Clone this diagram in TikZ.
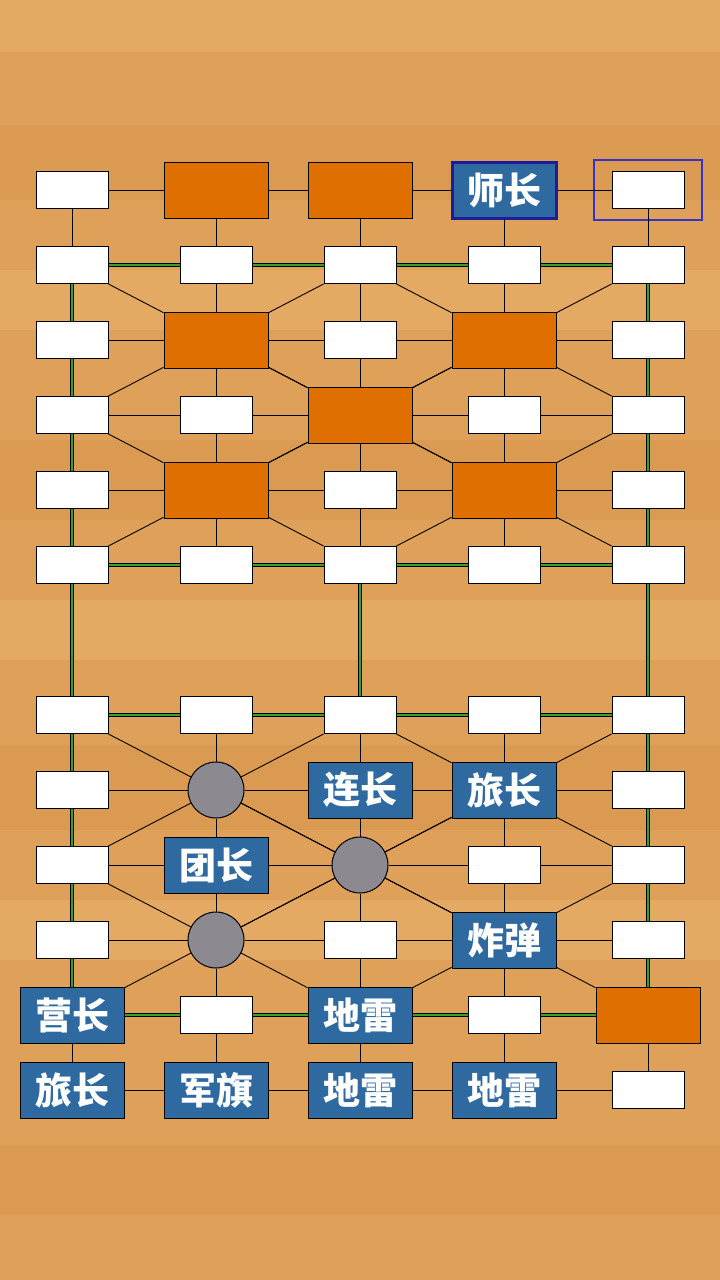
\documentclass[tikz,border=0pt]{standalone}
\usepackage{fontspec}
\newfontfamily\cjk{Noto Sans CJK SC}
\definecolor{wood}{HTML}{DFA05A}
\definecolor{woodlt}{HTML}{E4A963}
\definecolor{wooddk}{HTML}{DA9A52}
\definecolor{foeorange}{HTML}{DF7000}
\definecolor{ownblue}{HTML}{2E6AA0}
\definecolor{selblue}{HTML}{1C1C9C}
\definecolor{markblue}{HTML}{3434C8}
\definecolor{campgray}{HTML}{8C8A90}
\definecolor{railgreen}{HTML}{2FA52F}

\begin{document}
\begin{tikzpicture}[x=1pt,y=-1pt,
  ln/.style={draw=black,line width=0.9pt},
  rail/.style={draw=black,line width=1.1pt,double=railgreen,double distance=1.2pt},
  post/.style={draw,fill=white,line width=1pt,minimum width=72pt,minimum height=37pt,inner sep=0pt},
  foe/.style={post,fill=foeorange,minimum width=104pt,minimum height=56pt},
  own/.style={foe,fill=ownblue,text=white,font=\cjk\bfseries\fontsize{37}{37}\selectfont},
  camp/.style={circle,draw,fill=campgray,line width=1pt,minimum size=56pt,inner sep=0pt}]
% wooden table
\fill[wood] (0,0) rectangle (720,1280);
\foreach \a/\b/\w in {0/52/woodlt,125/200/wooddk,270/330/woodlt,440/520/wooddk,
    600/660/woodlt,745/830/wooddk,900/960/woodlt,1145/1215/wooddk}
  \fill[\w] (0,\a) rectangle (720,\b);
% grid points
\foreach \c in {1,...,5}
  \foreach \r in {1,...,12}
    {\pgfmathsetmacro\y{\r<7 ? 115+75*\r : 190+75*\r}
     \coordinate (g\c-\r) at ({144*\c-72},\y);}
% empty posts
\foreach \c/\r in {1/1,5/1,1/2,2/2,3/2,4/2,5/2,1/3,3/3,5/3,1/4,2/4,4/4,5/4,
    1/5,3/5,5/5,1/6,2/6,3/6,4/6,5/6,1/7,2/7,3/7,4/7,5/7,1/8,5/8,
    1/9,4/9,5/9,1/10,3/10,5/10,2/11,4/11,5/12}
  \node[post] (n\c-\r) at (g\c-\r) {};
% camps
\foreach \c/\r in {2/8,3/9,2/10}
  \node[camp] (n\c-\r) at (g\c-\r) {};
% hidden pieces
\foreach \c/\r in {2/1,3/1,2/3,4/3,3/4,2/5,4/5,5/11}
  \node[foe] (n\c-\r) at (g\c-\r) {};
% own pieces
\node[own,draw=selblue,line width=3pt] (n4-1) at (g4-1) {师长};
\node[own] (n3-8) at (g3-8) {连长};
\node[own] (n4-8) at (g4-8) {旅长};
\node[own] (n2-9) at (g2-9) {团长};
\node[own] (n4-10) at (g4-10) {炸弹};
\node[own] (n1-11) at (g1-11) {营长};
\node[own] (n3-11) at (g3-11) {地雷};
\node[own] (n1-12) at (g1-12) {旅长};
\node[own] (n2-12) at (g2-12) {军旗};
\node[own] (n3-12) at (g3-12) {地雷};
\node[own] (n4-12) at (g4-12) {地雷};
% target mark
\node[draw=markblue,line width=1.5pt,minimum width=108pt,minimum height=60pt] (mark) at (g5-1) {};
% roads
\foreach \r in {1,3,4,5,8,9,10,12}
  \foreach \c in {1,...,4}
    {\pgfmathtruncatemacro\cc{\c+1}
     \draw[ln] (n\c-\r) -- (n\cc-\r);}
\foreach \c in {2,3,4}
  \foreach \r in {1,...,5,7,8,9,10,11}
    {\pgfmathtruncatemacro\rr{\r+1}
     \draw[ln] (n\c-\r) -- (n\c-\rr);}
\foreach \c in {1,5}
  \foreach \r/\rr in {1/2,11/12}
    \draw[ln] (n\c-\r) -- (n\c-\rr);
\foreach \c/\r in {2/3,4/3,3/4,2/5,4/5,2/8,4/8,3/9,2/10,4/10}
  \foreach \dc/\dr in {-1/-1,1/-1,-1/1,1/1}
    {\pgfmathtruncatemacro\cc{\c+\dc}\pgfmathtruncatemacro\rr{\r+\dr}
     \draw[ln] (n\c-\r) -- (n\cc-\rr);}
% railways
\foreach \r in {2,6,7,11}
  \foreach \c in {1,...,4}
    {\pgfmathtruncatemacro\cc{\c+1}
     \draw[rail] (n\c-\r) -- (n\cc-\r);}
\foreach \c in {1,5}
  \foreach \r in {2,...,10}
    {\pgfmathtruncatemacro\rr{\r+1}
     \draw[rail] (n\c-\r) -- (n\c-\rr);}
\draw[rail] (n3-6) -- (n3-7);
\end{tikzpicture}
\end{document}
